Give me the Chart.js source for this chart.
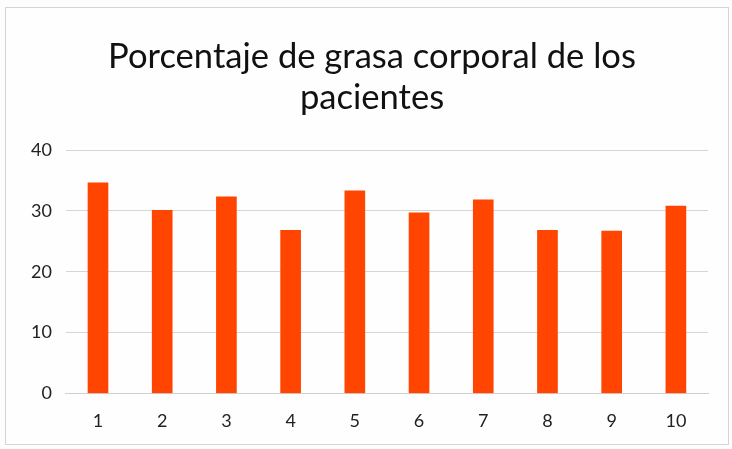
<!DOCTYPE html>
<html><head><meta charset="utf-8">
<script src="https://cdn.jsdelivr.net/npm/chart.js@4"></script>
<style>
html,body{margin:0;padding:0;background:#fdfdfd;}
#wrap{position:absolute;left:5px;top:7px;width:722px;height:436px;border:1px solid #d4d4d4;background:#fefefe;}
canvas{position:absolute;left:0;top:0;}
</style></head><body>
<div id="wrap"></div>
<canvas id="c" width="732" height="449"></canvas>
<script>
const titleLines = ["Porcentaje de grasa corporal de los", "pacientes"];
const categories = ["1","2","3","4","5","6","7","8","9","10"];
const values = [34.6, 30.1, 32.3, 26.8, 33.3, 29.7, 31.8, 26.8, 26.7, 30.8];
const yTicks = [0, 10, 20, 30, 40];

new Chart(document.getElementById('c'), {
  type: 'bar',
  data: { labels: categories, datasets: [{ data: values, backgroundColor: '#FF4500', barThickness: 20 }] },
  options: {
    responsive: false, animation: false,
    layout: { padding: { left: 17, right: 5, top: 36, bottom: 0 } },
    plugins: {
      legend: { display: false }, tooltip: { enabled: false },
      title: { display: true, text: titleLines, color: '#111', font: { family: 'Lato', size: 34.6, weight: 'normal' }, lineHeight: 1.25, padding: { top: 0, bottom: 31 } }
    },
    scales: {
      x: { grid: { display: false, drawTicks: false }, border: { color: '#d0d0d0', width: 1 },
           ticks: { color: '#222', font: { family: 'Lato', size: 18 }, padding: 17 } },
      y: { min: 0, max: 40, afterBuildTicks: ax => { ax.ticks = yTicks.map(v => ({ value: v })); },
           grid: { color: '#d6d6d6', drawTicks: false }, border: { display: false },
           ticks: { color: '#222', font: { family: 'Lato', size: 18 }, padding: 14 } },
      spacer: { position: 'right', display: true, grid: { display: false, drawTicks: false }, border: { display: false },
           ticks: { display: false }, afterFit: s => { s.width = 19; } }
    }
  }
});
</script></body></html>
